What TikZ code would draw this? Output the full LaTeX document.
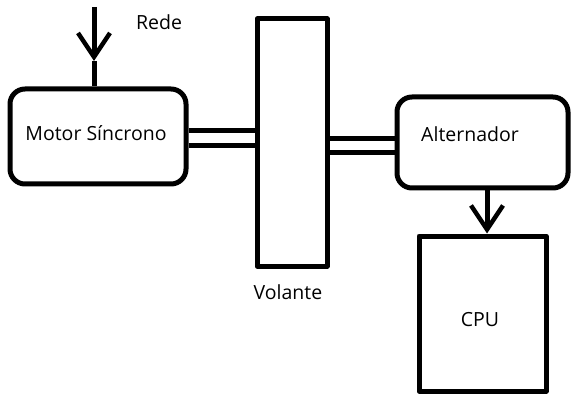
\documentclass[tikz,border=0pt]{standalone}
\usepackage{fontspec}
\setmainfont{Open Sans}
\usetikzlibrary{arrows.meta, calc}

\begin{document}
\begin{tikzpicture}[x=1pt, y=-1pt, >={Straight Barb[length=24pt, width=32pt, line width=4.5pt]},
	line cap=butt, line join=round, font=\fontsize{19.5}{23}\selectfont,
	machine/.style={draw, line width=5pt, rounded corners=15pt, inner sep=0pt},
	block/.style={draw, line width=5pt, inner sep=0pt},
	shaft/.style={line width=5pt},
	feed/.style={line width=5pt}]
	
	\useasboundingbox (0,0) rectangle (584,409);
	
	%========================
	% Machines
	%========================
	\node[machine, minimum width=176pt, minimum height=95pt] (motor) at (98,136.5) {};
	\node at (96,133) {Motor Síncrono};
	
	\node[block, minimum width=70pt, minimum height=247pt] (volante) at (292,142.5) {};
	\node at (288,292) {Volante};
	
	\node[machine, minimum width=171pt, minimum height=91pt] (alt) at (482.5,142.5) {};
	\node at (470,134) {Alternador};
	
	\node[block, minimum width=127pt, minimum height=155pt] (cpu) at (482.5,313.5) {};
	\node at (480,320) {CPU};
	
	%========================
	% Shafts
	%========================
	\draw[shaft] ([yshift=-9.5pt]motor.east) -- ([yshift=-9.5pt]motor.east -| volante.west);
	\draw[shaft] ([yshift=5.5pt]motor.east) -- ([yshift=5.5pt]motor.east -| volante.west);
	\draw[shaft] ([yshift=-10.5pt]volante.east) -- ([yshift=-10.5pt]volante.east -| alt.west);
	\draw[shaft] ([yshift=3.5pt]volante.east) -- ([yshift=3.5pt]volante.east -| alt.west);
	
	%========================
	% Supply and output
	%========================
	\coordinate (rede) at (94,7);
	\coordinate (redetip) at (94,61);
	\node at (159,22) {Rede};
	\draw[feed,->] (rede) -- (redetip);
	\draw[feed] (redetip) -- (redetip |- motor.north);
	
	\coordinate (cputip) at ([xshift=4.5pt]cpu.north);
	\draw[feed,->] ([xshift=4.5pt]alt.south) -- (cputip);
	
\end{tikzpicture}
\end{document}
